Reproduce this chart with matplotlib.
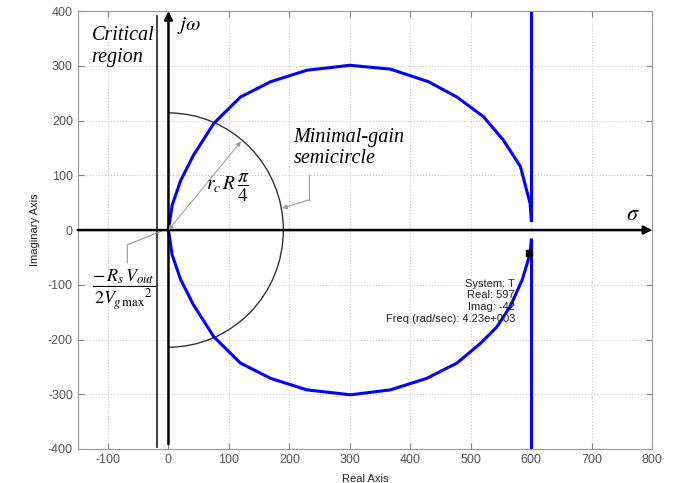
import matplotlib
matplotlib.use("Agg")
import matplotlib.pyplot as plt
from matplotlib.patches import Arc

plt.rcParams['mathtext.fontset'] = 'stix'
plt.rcParams['axes.unicode_minus'] = False

# Nyquist locus of T(jw), upper and lower halves
upper_re = [0, 6, 20, 41, 75, 119, 169, 229, 300, 367, 430, 477, 521, 554, 582, 598, 600]
upper_im = [0, 45, 90, 136, 195, 243, 271, 292, 301, 294, 271, 243, 207, 164, 116, 49, 18]
lower_re = [0, 6, 20, 41, 75, 119, 169, 229, 301, 367, 427, 477, 516, 543, 565, 585, 598, 600]
lower_im = [0, -45, -90, -136, -195, -243, -271, -292, -301, -292, -271, -243, -207, -177, -140, -91, -43, -18]

# asymptote near Re = 600
asym_re = [600, 600]
asym_top = [18, 400]
asym_bot = [-18, -400]

# data tip
tip_re, tip_im = 597, -42
tip_freq = "4.23e+003"

# minimal-gain semicircle (radii in data units)
semi_w, semi_h = 190, 214
crit_re = -19

xticks = [-100, 0, 100, 200, 300, 400, 500, 600, 700, 800]
yticks = [-400, -300, -200, -100, 0, 100, 200, 300, 400]

fig = plt.figure(figsize=(6.88, 4.83), dpi=100)
ax = fig.add_axes([0.113, 0.0704, 0.835, 0.9066])

ax.plot(upper_re, upper_im, color='#0000ff', lw=2.2, solid_joinstyle='round')
ax.plot(lower_re, lower_im, color='#0000ff', lw=2.2, solid_joinstyle='round')
ax.plot(asym_re, asym_top, color='#0000ff', lw=2.2)
ax.plot(asym_re, asym_bot, color='#0000ff', lw=2.2)
ax.plot([tip_re], [tip_im], 's', color='black', ms=4.5)

ax.add_patch(Arc((0, 0), 2 * semi_w, 2 * semi_h, theta1=-90, theta2=90,
                 color='#333333', lw=1.0))
ax.plot([crit_re, crit_re], [391, -396], color='#333333', lw=1.3)

# s-plane axes
ax.annotate('', xy=(800, 0), xytext=(-150, 0),
            arrowprops=dict(arrowstyle='-|>', lw=1.8, color='black', mutation_scale=12,
                            shrinkA=0, shrinkB=0))
ax.annotate('', xy=(0, 400), xytext=(0, -391),
            arrowprops=dict(arrowstyle='-|>', lw=1.8, color='black', mutation_scale=12,
                            shrinkA=0, shrinkB=0))

# leaders
ax.annotate('', xy=(120, 162), xytext=(0, 0),
            arrowprops=dict(arrowstyle='<|-|>', lw=0.7, color='#999999', mutation_scale=7,
                            shrinkA=0, shrinkB=0))
ax.plot([232, 232], [100, 55], color='#999999', lw=0.8)
ax.annotate('', xy=(188, 40), xytext=(232, 55),
            arrowprops=dict(arrowstyle='-|>', lw=0.8, color='#999999', mutation_scale=7,
                            shrinkA=0, shrinkB=0))
ax.plot([-68, -68, -3], [-60, -27, 2], color='#999999', lw=0.8)

serif = 'Liberation Serif'
ax.text(-127, 347, 'Critical', family=serif, style='italic', fontsize=14.5)
ax.text(-127, 307, 'region', family=serif, style='italic', fontsize=14.5)
ax.text(14, 365, r'$j\omega$', fontsize=15)
ax.text(757, 18, r'$\sigma$', fontsize=16)
ax.text(207, 161, 'Minimal-gain', family=serif, style='italic', fontsize=14.5)
ax.text(207, 122, 'semicircle', family=serif, style='italic', fontsize=14.5)
ax.text(62, 77, r'$r_c\,R\,\dfrac{\pi}{4}$', fontsize=14, va='center')
ax.text(-126, -110, r'$\dfrac{-\,R_s\,V_{out}}{2{V_{g\,\max}}^{2}}$', fontsize=13, va='center')

ax.text(573, -130, 'System: T\nReal: %d\nImag: %d\nFreq (rad/sec): %s' % (tip_re, tip_im, tip_freq),
        ha='right', va='center', multialignment='right', fontsize=8, color='#222222',
        family='Liberation Sans', linespacing=1.2)

ax.set_xlim(-150, 800)
ax.set_ylim(-400, 400)
ax.set_xticks(xticks)
ax.set_yticks(yticks)
ax.grid(True, linestyle=':', color='#c8c8c8', lw=0.8)
ax.set_axisbelow(True)
ax.tick_params(direction='in', top=True, right=True, colors='#888888',
               labelcolor='#555555', labelsize=9, length=4)
for lab in ax.get_xticklabels() + ax.get_yticklabels():
    lab.set_family('Liberation Sans')
for s in ax.spines.values():
    s.set_color('#999999')

ax.set_xlabel('Real Axis', family='Liberation Sans', fontsize=8, color='#222222', labelpad=6)
ax.set_ylabel('Imaginary Axis', family='Liberation Sans', fontsize=8, color='#222222', labelpad=6)

fig.savefig('out.png', dpi=100)
